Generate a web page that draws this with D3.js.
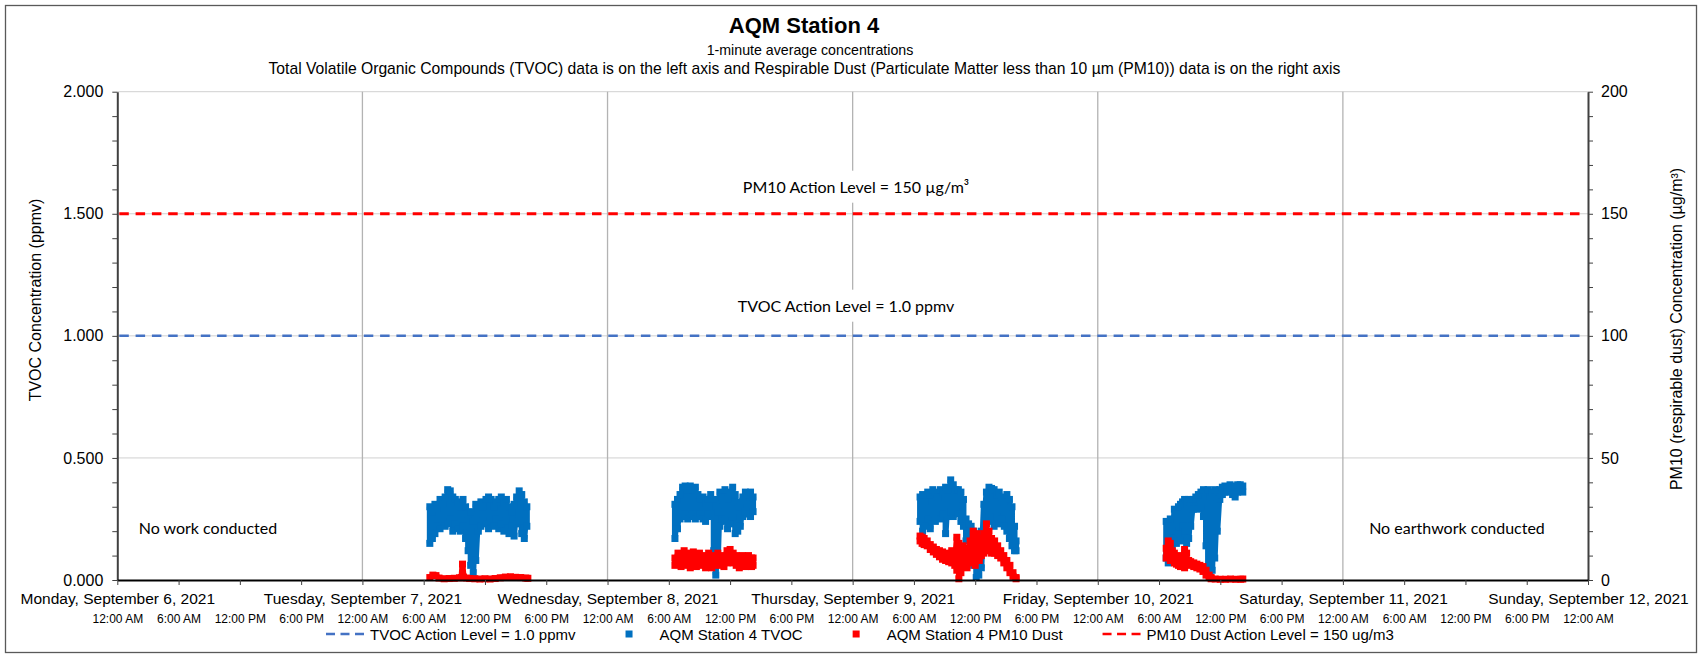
<!DOCTYPE html>
<html>
<head>
<meta charset="utf-8">
<script src="https://cdnjs.cloudflare.com/ajax/libs/d3/7.8.5/d3.min.js"></script>
<style>
body{margin:0;background:#fff;}
text{font-family:"Liberation Sans",Arial,sans-serif;fill:#000;}
.note{font-family:Lato,"Noto Sans",sans-serif;}
</style>
</head>
<body>
<svg id="chart" width="1699" height="656"></svg>
<script>
var dayLabels=["Monday, September 6, 2021","Tuesday, September 7, 2021","Wednesday, September 8, 2021","Thursday, September 9, 2021","Friday, September 10, 2021","Saturday, September 11, 2021","Sunday, September 12, 2021"];
var timeLabels=["12:00 AM","6:00 AM","12:00 PM","6:00 PM"];
var tvocTicks=[0,0.5,1,1.5,2];
var pm10Ticks=[0,50,100,150,200];
var tvocActionLevel=1.0;
var pm10ActionLevel=150;

// TVOC ppmv, rows are [hour of day, reading, reading] in time order
var tvocSep7=[[6.6,0.30,0.15],[6.85,0.28,0.17],[7.1,0.31,0.19],[7.35,0.29,0.22],[7.6,0.33,0.21],[7.85,0.31,0.24],[8.1,0.34,0.22],[8.35,0.37,0.23],[8.6,0.365,0.25],[8.85,0.34,0.20],[9.1,0.33,0.23],[9.35,0.32,0.21],[9.6,0.30,0.20],[9.85,0.33,0.22],[10.1,0.30,0.17],[10.35,0.27,0.12],[10.6,0.28,0.06],[10.85,0.24,0.03],[11.1,0.31,0.08],[11.35,0.29,0.20],[11.6,0.32,0.22],[11.85,0.30,0.24],[12.1,0.33,0.23],[12.35,0.34,0.21],[12.6,0.33,0.24],[12.85,0.30,0.22],[13.1,0.32,0.25],[13.35,0.33,0.21],[13.6,0.34,0.23],[13.85,0.31,0.20],[14.1,0.33,0.24],[14.35,0.30,0.19],[14.6,0.28,0.22],[14.85,0.31,0.18],[15.1,0.34,0.23],[15.35,0.365,0.24],[15.6,0.35,0.19],[15.85,0.32,0.17],[16.1,0.30,0.22]];
var tvocSep8=[[6.6,0.31,0.17],[6.85,0.33,0.21],[7.1,0.35,0.25],[7.35,0.38,0.26],[7.6,0.385,0.27],[7.85,0.37,0.25],[8.1,0.385,0.26],[8.35,0.37,0.27],[8.6,0.38,0.25],[8.85,0.35,0.26],[9.1,0.33,0.27],[9.35,0.34,0.25],[9.6,0.31,0.24],[9.85,0.33,0.27],[10.1,0.35,0.26],[10.4,0.33,0.12],[10.6,0.30,0.02],[10.8,0.28,0.08],[11.0,0.36,0.22],[11.25,0.34,0.25],[11.5,0.37,0.24],[11.75,0.33,0.21],[12.0,0.36,0.23],[12.25,0.38,0.26],[12.5,0.35,0.19],[12.75,0.32,0.20],[13.0,0.30,0.22],[13.25,0.34,0.26],[13.5,0.36,0.28],[13.75,0.35,0.27],[14.0,0.36,0.26],[14.25,0.34,0.28]];
var tvocSep9=[[6.6,0.34,0.24],[6.85,0.35,0.20],[7.1,0.32,0.22],[7.35,0.36,0.25],[7.6,0.35,0.21],[7.85,0.37,0.26],[8.1,0.36,0.24],[8.35,0.34,0.26],[8.6,0.37,0.25],[8.85,0.36,0.27],[9.1,0.38,0.19],[9.35,0.37,0.26],[9.6,0.41,0.28],[9.85,0.39,0.26],[10.1,0.37,0.28],[10.35,0.37,0.27],[10.6,0.36,0.24],[10.85,0.33,0.22],[11.1,0.25,0.16],[11.35,0.23,0.18],[11.6,0.22,0.10],[11.85,0.20,0.06],[12.1,0.12,0.01],[12.35,0.08,0.02],[12.6,0.20,0.05],[12.85,0.31,0.20],[13.1,0.36,0.24],[13.35,0.38,0.26],[13.6,0.375,0.24],[13.85,0.37,0.22],[14.1,0.35,0.26],[14.35,0.36,0.23],[14.6,0.34,0.25],[14.85,0.32,0.22],[15.1,0.35,0.20],[15.35,0.33,0.17],[15.6,0.30,0.14],[15.85,0.22,0.12],[16.0,0.16,0.12]];
var tvocSep10=[[6.7,0.24,0.09],[6.9,0.22,0.07],[7.1,0.25,0.12],[7.3,0.20,0.10],[7.5,0.29,0.17],[7.7,0.27,0.15],[7.9,0.30,0.19],[8.1,0.31,0.16],[8.3,0.32,0.22],[8.5,0.33,0.20],[8.7,0.32,0.15],[8.9,0.33,0.17],[9.1,0.32,0.22],[9.35,0.33,0.29],[9.6,0.34,0.30],[9.85,0.35,0.29],[10.1,0.36,0.30],[10.35,0.37,0.26],[10.6,0.36,0.14],[10.8,0.37,0.05],[11.0,0.34,0.01],[11.2,0.36,0.04],[11.45,0.37,0.09],[11.7,0.36,0.20],[11.95,0.37,0.33],[12.2,0.38,0.35],[12.45,0.385,0.36],[12.7,0.38,0.36],[12.95,0.39,0.37],[13.2,0.385,0.35],[13.45,0.38,0.34],[13.7,0.39,0.36],[13.95,0.39,0.37],[14.2,0.385,0.36]];

// PM10 ug/m3 (right axis), same row layout
var pm10Sep7=[[6.6,1.0],[6.9,2.0],[7.2,1.8],[7.5,0.8],[8.0,0.5],[8.5,0.6],[9.0,0.7],[9.5,0.9],[9.7,1.0],[9.8,6.5],[9.9,1.2],[10.2,0.8],[10.5,0.6],[11.0,0.5],[11.5,0.4],[12.0,0.5],[12.5,0.4],[13.0,0.6],[13.5,0.9],[14.0,1.2],[14.5,1.3],[15.0,1.1],[15.5,1.0],[16.0,0.8],[16.2,0.7]];
var pm10Sep8=[[6.6,9,6],[6.9,11,7],[7.2,10,5.5],[7.5,12,7],[7.8,11,6],[8.1,10,5],[8.4,11.5,6],[8.7,10,5.5],[9.0,11,7],[9.3,9,6],[9.6,10,5],[9.9,11,6.5],[10.2,9,5],[10.5,10,6],[10.8,11,7],[11.1,9.5,6],[11.4,10,5.5],[11.7,12,7],[12.0,12.5,8],[12.3,11,7],[12.6,10,6],[12.9,9,5],[13.2,10,6],[13.5,9.5,5.5],[13.8,10,6],[14.1,9,5.5],[14.25,9,6]];
var pm10Sep9=[[6.6,18,16],[6.8,17.5,15],[7.0,17,14.5],[7.3,16,14],[7.6,14.5,12.5],[7.9,13.5,11.5],[8.2,12.5,10.5],[8.5,12,9.5],[8.8,11.5,8.5],[9.1,11,8],[9.4,10.5,7.5],[9.7,12,7],[10.0,11,6],[10.2,17.5,4],[10.4,15,0.5],[10.6,12,3],[10.8,14,6],[11.0,13,8],[11.2,9,5],[11.5,16,8],[11.8,20,7],[12.0,15,6],[12.2,19,9],[12.4,14,8],[12.6,17,10],[12.85,19,11],[13.1,23,12],[13.35,20,12],[13.6,17,11],[13.9,16,11],[14.2,14,10],[14.5,12,9],[14.8,10,7],[15.1,8,5],[15.4,6,3],[15.7,3,1.5],[16.0,1,0.5]];
var pm10Sep10=[[6.7,13,9],[6.9,16,10],[7.1,15,8],[7.3,12,9],[7.5,11,7],[7.7,9,6.5],[7.9,10,6],[8.1,8,5.5],[8.3,9.5,6],[8.5,12.5,5],[8.7,11,7],[8.9,8,6.5],[9.1,7.5,6],[9.4,7,5.5],[9.7,6.5,5],[10.0,6,4.5],[10.3,5.5,3.5],[10.6,4,2],[10.9,2,1],[11.1,1,0.5],[11.5,0.4],[12.0,0.3],[12.5,0.3],[13.0,0.4],[13.5,0.3],[14.0,0.3],[14.2,0.4]];

var tvocDays=[[tvocSep7,1],[tvocSep8,2],[tvocSep9,3],[tvocSep10,4]];
var pm10Days=[[pm10Sep7,1],[pm10Sep8,2],[pm10Sep9,3],[pm10Sep10,4]];

var svg=d3.select("#chart");
var plotL=117.3,plotR=1588,plotT=91.7,plotB=580;
var t0=new Date(2021,8,6),t1=new Date(2021,8,12);

var x=d3.scaleTime().domain([t0,t1]).range([plotL,plotR]);
var y=d3.scaleLinear().domain([0,2]).range([plotB,plotT]);
var y2=d3.scaleLinear().domain([0,200]).range([plotB,plotT]);

var blue="#0070c0",red="#ff0000",dashBlue="#4472c4";

// frame
svg.append("rect").attr("x",5.5).attr("y",5.5).attr("width",1691).attr("height",647)
	.attr("fill","#fff").attr("stroke","#595959").attr("stroke-width",1.3);

// titles
svg.append("text").attr("x",804).attr("y",25).attr("text-anchor","middle").attr("dominant-baseline","central")
	.attr("font-size",22).attr("font-weight","bold").text("AQM Station 4");
svg.append("text").attr("x",810).attr("y",49.5).attr("text-anchor","middle").attr("dominant-baseline","central")
	.attr("font-size",14.2).text("1-minute average concentrations");
svg.append("text").attr("x",804.5).attr("y",68.5).attr("text-anchor","middle").attr("dominant-baseline","central")
	.attr("font-size",15.7).text("Total Volatile Organic Compounds (TVOC) data is on the left axis and Respirable Dust (Particulate Matter less than 10 \u00b5m (PM10)) data is on the right axis");

// gridlines
svg.append("g").selectAll("line").data(tvocTicks.filter(d=>d>0)).join("line")
	.attr("x1",plotL).attr("x2",plotR).attr("y1",d=>y(d)).attr("y2",d=>y(d))
	.attr("stroke","#d0d0d0").attr("stroke-width",1);
svg.append("g").selectAll("line").data(d3.timeDay.range(t0,t1).slice(1)).join("line")
	.attr("x1",d=>x(d)).attr("x2",d=>x(d)).attr("y1",plotT).attr("y2",plotB)
	.attr("stroke","#b3b3b3").attr("stroke-width",1.3);

// action levels
svg.append("line").attr("x1",plotL+2).attr("x2",plotR-2).attr("y1",y(tvocActionLevel)).attr("y2",y(tvocActionLevel))
	.attr("stroke",dashBlue).attr("stroke-width",2.5).attr("stroke-dasharray","9.5,6.8");
svg.append("line").attr("x1",plotL+2).attr("x2",plotR-2).attr("y1",y2(pm10ActionLevel)).attr("y2",y2(pm10ActionLevel))
	.attr("stroke",red).attr("stroke-width",3).attr("stroke-dasharray","9.5,6.8");

function note(txt,cx,cy,anchor,bg){
	var g=svg.append("g");
	var t=g.append("text").attr("class","note").attr("x",cx).attr("y",cy).attr("text-anchor",anchor||"middle")
		.attr("dominant-baseline","central").attr("font-size",16).text(txt);
	if(bg){
		var b=t.node().getBBox();
		g.insert("rect","text").attr("x",b.x-4).attr("y",cy-16).attr("width",b.width+8).attr("height",32).attr("fill","#fff");
	}
}
note("PM10 Action Level = 150 \u00b5g/m\u00b3",856,186.7,"middle",true);
note("TVOC Action Level = " + tvocActionLevel.toFixed(1) + " ppmv",846,305.7,"middle",true);
note("No work conducted",138.7,527.7,"start");
note("No earthwork conducted",1457,527.7,"middle");

// series
function expand(rows,day){
	var out=[],d0=d3.timeDay.offset(t0,day);
	rows.forEach(function(r){
		for(var i=1;i<r.length;i++) out.push({t:d3.timeMinute.offset(d0,Math.round(r[0]*60)),v:r[i]});
	});
	return out;
}
function drawSeries(sets,ys,color){
	var g=svg.append("g");
	var line=d3.line().x(d=>x(d.t)).y(d=>ys(d.v));
	sets.forEach(function(s){
		var pts=expand(s[0],s[1]);
		g.append("path").datum(pts).attr("d",line).attr("fill","none").attr("stroke",color)
			.attr("stroke-width",6).attr("stroke-linejoin","bevel");
		g.selectAll(null).data(pts).join("rect")
			.attr("x",d=>x(d.t)-3.5).attr("y",d=>ys(d.v)-3.5).attr("width",7).attr("height",7).attr("fill",color);
	});
}
drawSeries(tvocDays,y,blue);
drawSeries(pm10Days,y2,red);

// axes
var yAxis=d3.axisLeft(y).tickValues(d3.range(0,21).map(i=>i/10)).tickSize(5).tickSizeOuter(0).tickPadding(9)
	.tickFormat(d=>tvocTicks.indexOf(d)>=0?d3.format(".3f")(d):"");
var ga=svg.append("g").attr("transform","translate("+plotL+",0)").call(yAxis);
ga.attr("font-size",16).attr("font-family",null);
ga.select(".domain").attr("stroke","#404040").attr("stroke-width",2);
ga.selectAll(".tick line").attr("stroke","#404040");

var y2Axis=d3.axisRight(y2).tickValues(d3.range(0,201,10)).tickSize(5).tickSizeOuter(0).tickPadding(8)
	.tickFormat(d=>pm10Ticks.indexOf(d)>=0?d:"");
var gb=svg.append("g").attr("transform","translate("+plotR+",0)").call(y2Axis);
gb.attr("font-size",16).attr("font-family",null);
gb.select(".domain").attr("stroke","#404040").attr("stroke-width",2);
gb.selectAll(".tick line").attr("stroke","#404040");

var xAxis=d3.axisBottom(x).ticks(d3.timeHour.every(6)).tickSize(5).tickSizeOuter(0)
	.tickFormat(d=>timeLabels[d.getHours()/6]);
var gx=svg.append("g").attr("transform","translate(0,"+plotB+")").call(xAxis);
gx.attr("font-size",12).attr("font-family",null);
gx.select(".domain").attr("stroke","#000").attr("stroke-width",1.8);
gx.selectAll(".tick line").attr("stroke","#404040");
gx.selectAll(".tick text").attr("y",39).attr("dy","0.35em");

var dayAxis=d3.axisBottom(x).ticks(d3.timeDay.every(1)).tickSize(0).tickFormat((d,i)=>dayLabels[i]);
var gd=svg.append("g").attr("transform","translate(0,"+plotB+")").call(dayAxis);
gd.attr("font-size",15.5).attr("font-family",null);
gd.select(".domain").remove();
gd.selectAll(".tick text").attr("y",19).attr("dy","0.35em");

// axis titles
svg.append("text").attr("transform","translate(35,300) rotate(-90)").attr("text-anchor","middle")
	.attr("dominant-baseline","central").attr("font-size",16).text("TVOC Concentration (ppmv)");
svg.append("text").attr("transform","translate(1676,329) rotate(-90)").attr("text-anchor","middle")
	.attr("dominant-baseline","central").attr("font-size",16).text("PM10 (respirable dust) Concentration (\u00b5g/m\u00b3)");

// legend
var legendItems=[
	{label:"TVOC Action Level = " + tvocActionLevel.toFixed(1) + " ppmv",kind:"dash",color:dashBlue},
	{label:"AQM Station 4 TVOC",kind:"square",color:blue},
	{label:"AQM Station 4 PM10 Dust",kind:"square",color:red},
	{label:"PM10 Dust Action Level = " + pm10ActionLevel + " ug/m3",kind:"dash",color:red}
];
var lx=370,ly=634;
legendItems.forEach(function(it){
	var g=svg.append("g");
	if(it.kind=="dash"){
		g.append("line").attr("x1",lx-44).attr("x2",lx-2).attr("y1",ly).attr("y2",ly)
			.attr("stroke",it.color).attr("stroke-width",2.5).attr("stroke-dasharray","9,5.5");
	}else{
		g.append("rect").attr("x",lx-34).attr("y",ly-3.5).attr("width",7).attr("height",7).attr("fill",it.color);
	}
	var t=g.append("text").attr("x",lx).attr("y",ly).attr("dominant-baseline","central").attr("font-size",15).text(it.label);
	lx+=t.node().getComputedTextLength()+84;
});
</script>
</body>
</html>
